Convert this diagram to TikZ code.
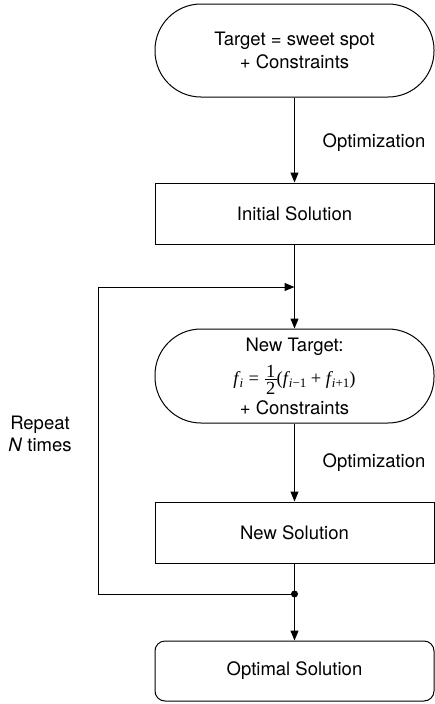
\documentclass[tikz,border=0pt]{standalone}
\usepackage{fontspec}
\setmainfont{TeX Gyre Heros}
\newfontfamily\lmrfam{Liberation Serif}
\newcommand\fmup[1]{{\fontsize{18.5}{23}\selectfont\lmrfam #1}}
\newcommand\fmit[1]{{\fontsize{18.5}{23}\selectfont\lmrfam\itshape #1}\kern1pt}
\newcommand\fmsb[1]{\raisebox{-3.5pt}{\fontsize{13}{13}\selectfont\lmrfam #1}}
\newcommand\fmfrac[2]{\raisebox{-10pt}{\fontsize{18.5}{23}\selectfont\lmrfam\vbox{\hbox to 12pt{\hss #1\hss}\kern2pt\hrule height 0.8pt\kern2pt\hbox to 12pt{\hss #2\hss}}}}
\usetikzlibrary{arrows.meta}
\tikzset{
  base/.style={draw, line width=1pt, minimum width=279pt, align=center, inner sep=0pt,
    font=\fontsize{18.5}{23}\selectfont},
  stadium/.style={base, minimum height=93pt, rounded corners=46pt},
  boxnode/.style={base, minimum height=61pt},
  endbox/.style={base, minimum height=60pt, rounded corners=10pt},
  lbl/.style={inner sep=0pt, align=center, font=\fontsize{18.5}{22}\selectfont},
  arr/.style={line width=1pt, -{Triangle[length=10pt,width=8pt]}},
  ln/.style={line width=1pt}
}
\begin{document}
\begin{tikzpicture}[x=1pt,y=-1pt]
\useasboundingbox (0,0) rectangle (435,704);
\node[stadium] (t1) at (294.5,50.5) {Target = sweet spot\\+ Constraints};
\node[boxnode] (s1) at (294.5,213.5) {Initial Solution};
\node[stadium, minimum height=94pt] (t2) at (294.5,376) {New Target:\\[9pt]\fmit{f}\fmsb{\itshape i}\hspace{5.5pt}\fmup{=}\hspace{5.5pt}\fmfrac{1}{2}\fmup{(}\fmit{f}\fmsb{{\itshape i}−1}\hspace{4.5pt}\fmup{+}\hspace{4.5pt}\fmit{f}\fmsb{{\itshape i}+1}\fmup{)}\\[5pt]+ Constraints};
\node[boxnode] (s2) at (294.5,532.5) {New Solution};
\node[endbox] (o) at (294.5,671) {Optimal Solution};
\node[lbl] (opt1) at (374,143) {Optimization};
\node[lbl] (opt2) at (374,463) {Optimization};
\node[lbl] (rep) at (40,434) {Repeat\\\textit{N} times};
\coordinate (m) at (294.5,287);
\coordinate (j) at (294.5,594);
\coordinate (lb) at (98,594);
\coordinate (lt) at (98,287);
\draw[arr] (t1) -- (s1);
\draw[arr] (s1) -- (t2);
\draw[arr] (t2) -- (s2);
\draw[arr] (s2) -- (o);
\draw[arr] (j) -- (lb) -- (lt) -- (m);
\fill (j) circle (3.5pt);
\end{tikzpicture}
\end{document}
